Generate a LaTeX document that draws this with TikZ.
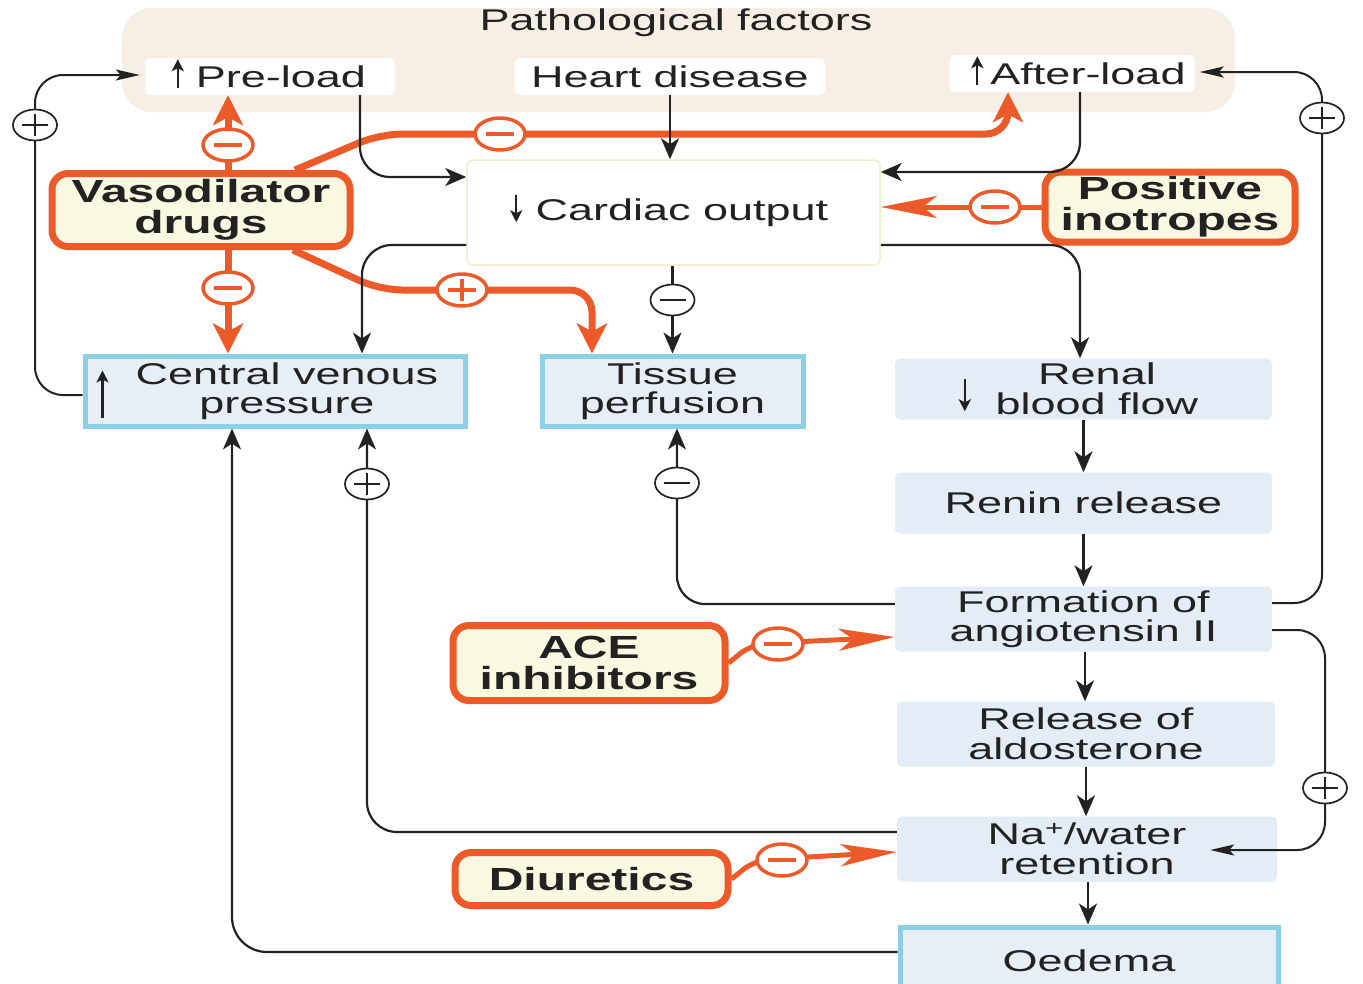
\documentclass[tikz,border=0pt]{standalone}
\usepackage{fontspec}
\setmainfont{Liberation Sans}[FakeStretch=1.5]
\usetikzlibrary{arrows.meta,shapes.geometric}
\definecolor{orn}{HTML}{EC5A2A}
\definecolor{lblue}{HTML}{8DCFE6}
\definecolor{bfill}{HTML}{E8EEF6}
\definecolor{gfill}{HTML}{E4ECF5}
\definecolor{beige}{HTML}{F7EFE6}
\definecolor{cream}{HTML}{FBF8E1}
\definecolor{ink}{HTML}{222222}
\definecolor{cobord}{HTML}{F2ECCB}
\begin{document}
\begin{tikzpicture}[x=1pt,y=-1pt,
  txt/.style={font=\fontsize{30}{29.5}\selectfont, text=ink, align=center, inner sep=0pt},
  btxt/.style={font=\fontsize{32}{31}\selectfont\bfseries, text=ink, align=center, inner sep=0pt},
  wbox/.style={txt, fill=white, rounded corners=6pt, minimum height=37pt},
  drug/.style={btxt, draw=orn, line width=7pt, fill=cream, rounded corners=16pt},
  bluebox/.style={txt, draw=lblue, line width=5pt, fill=bfill},
  gbox/.style={txt, fill=gfill, rounded corners=5pt, minimum width=377pt},
  blk/.style={draw=ink, line width=2.2pt, -{Stealth[length=21pt,width=18pt,inset=6pt]}},
  slim/.style={draw=ink, line width=2pt, -{Stealth[length=24pt,width=11pt,inset=5pt]}},
  tarr/.style={draw=ink, line width=2.2pt, -{Stealth[length=12pt,width=12pt,inset=3pt]}},
  oarr/.style={draw=orn, line width=7pt, -{Stealth[length=30pt,width=30pt,inset=8pt]}},
  oarr2/.style={draw=orn, line width=5pt, -{Stealth[length=56pt,width=22pt,inset=14pt]}},
  osign/.style={ellipse, draw=orn, line width=3.5pt, fill=white, minimum width=50pt, minimum height=32pt, inner sep=0pt},
  ominus/.style={osign, path picture={\draw[orn,line width=3.5pt] ([xshift=-14pt]path picture bounding box.center) -- ([xshift=14pt]path picture bounding box.center);}},
  oplus/.style={osign, path picture={\draw[orn,line width=3.5pt] ([xshift=-14pt]path picture bounding box.center) -- ([xshift=14pt]path picture bounding box.center) ([yshift=-11pt]path picture bounding box.center) -- ([yshift=11pt]path picture bounding box.center);}},
  bsign/.style={ellipse, draw=ink, line width=1.7pt, fill=white, minimum width=44pt, minimum height=31pt, inner sep=0pt},
  bminus/.style={bsign, path picture={\draw[ink,line width=2.2pt] ([xshift=-13pt]path picture bounding box.center) -- ([xshift=13pt]path picture bounding box.center);}},
  bplus/.style={bsign, path picture={\draw[ink,line width=2.2pt] ([xshift=-13pt]path picture bounding box.center) -- ([xshift=13pt]path picture bounding box.center) ([yshift=-11pt]path picture bounding box.center) -- ([yshift=11pt]path picture bounding box.center);}}
]
\useasboundingbox (0,0) rectangle (1363,983);
\fill[white] (0,0) rectangle (1363,983);

% ---------- nodes ----------
\node[fill=beige, rounded corners=30pt, minimum width=1113pt, minimum height=104pt] (bg) at (678.5,60) {};
\node[txt] (title) at (676,23) {Pathological factors};
\node[wbox, minimum width=250pt] (pre) at (270,76.5) {\hspace*{22pt}Pre-load};
\node[wbox, minimum width=310pt] (hd) at (670,76.5) {Heart disease};
\node[wbox, minimum width=245pt] (al) at (1072,73.5) {\hspace*{32pt}After-load};
\node[txt, draw=cobord, line width=1.5pt, fill=white, rounded corners=6pt, minimum width=413pt, minimum height=105pt] (co) at (673.5,212.5) {\hspace*{17pt}Cardiac output};
\node[drug, minimum width=298pt, minimum height=73pt] (vaso) at (201,210) {Vasodilator\\drugs};
\node[drug, minimum width=250pt, minimum height=70pt] (pi) at (1170,207) {Positive\\inotropes};
\node[bluebox, minimum width=380pt, minimum height=70pt] (cvp) at (275,391) {\hspace*{24pt}Central venous\\\hspace*{24pt}pressure};
\node[bluebox, minimum width=261pt, minimum height=70pt] (tp) at (672.5,391) {Tissue\\perfusion};
\node[gbox, minimum height=61pt] (rbf) at (1083.5,389) {\hspace*{27pt}Renal\\\hspace*{27pt}blood flow};
\node[gbox, minimum height=61pt] (rr) at (1083.5,503) {Renin release};
\node[gbox, minimum height=65pt] (fa) at (1083.5,619) {Formation of\\angiotensin II};
\node[gbox, minimum width=378pt, minimum height=65pt] (ra) at (1086,734) {Release of\\aldosterone};
\node[gbox, minimum width=380pt, minimum height=65pt] (na) at (1087,849) {Na\textsuperscript{+}/water\\retention};
\node[bluebox, minimum width=378pt, minimum height=68pt] (oe) at (1089,961) {Oedema};
\node[drug, minimum width=272pt, minimum height=75pt] (ace) at (589,663) {ACE\\inhibitors};
\node[drug, minimum width=273pt, minimum height=53pt] (diu) at (591.5,879) {Diuretics};

% arrows inside labels
\draw[tarr] ([xshift=33pt,yshift=7pt]pre.south west) -- ([xshift=33pt,yshift=36pt]pre.south west);
\draw[tarr] ([xshift=28pt,yshift=7pt]al.south west) -- ([xshift=28pt,yshift=36pt]al.south west);
\draw[tarr] ([xshift=50pt,yshift=-36pt]co.north west) -- ([xshift=50pt,yshift=-63pt]co.north west);
\draw[tarr] ([xshift=20pt,yshift=11pt]cvp.south west) -- ([xshift=20pt,yshift=58pt]cvp.south west);
\draw[tarr] ([xshift=70pt,yshift=-21pt]rbf.north west) -- ([xshift=70pt,yshift=-53pt]rbf.north west);

% ---------- orange connectors ----------
\draw[oarr] ([xshift=27pt]vaso.north) -- ([xshift=-42pt]pre.south);
\draw[oarr, rounded corners=22pt] ([xshift=94pt]vaso.north) -- (380,134) -- (1008,134) -- ([xshift=-64pt]al.south);
\draw[oarr] ([xshift=27pt]vaso.south) -- ([xshift=-47pt]cvp.north);
\draw[oarr, rounded corners=22pt] ([xshift=92pt]vaso.south) -- (380,290) -- (592,290) -- ([xshift=-80.5pt]tp.north);
\draw[oarr2] (pi.west) -- ([yshift=5.5pt]co.east);
\draw[oarr2, rounded corners=15pt] (ace.east) -- (752,644) -- ([yshift=-18pt]fa.west);
\draw[oarr2, rounded corners=15pt] (diu.east) -- (755,860) -- ([yshift=-3pt]na.west);

% ---------- black connectors ----------
\draw[blk, rounded corners=30pt] ([xshift=90pt]pre.south) -- (360,177) -- ([yshift=35.5pt]co.west);
\draw[blk] (hd.south) -- ([xshift=-3.5pt]co.north);
\draw[blk, rounded corners=30pt] ([xshift=8pt]al.south) -- (1080,172) -- ([yshift=40.5pt]co.east);
\draw[blk, rounded corners=30pt] ([yshift=-32.5pt]co.west) -- (362,245) -- ([xshift=87pt]cvp.north);
\draw[blk] ([xshift=-1pt]co.south) -- (tp.north);
\draw[blk, rounded corners=30pt] ([yshift=-32.5pt]co.east) -- (1080,245) -- ([xshift=-3.5pt]rbf.north);
\draw[blk] (rbf.south) -- (rr.north);
\draw[blk] (rr.south) -- (fa.north);
\draw[blk] ([xshift=1.5pt]fa.south) -- ([xshift=-1pt]ra.north);
\draw[blk] (ra.south) -- ([xshift=-1pt]na.north);
\draw[blk] ([xshift=1pt]na.south) -- ([xshift=-1pt]oe.north);
\draw[blk, rounded corners=28pt] ([yshift=15pt]fa.west) -- (677,604) -- ([xshift=4.5pt]tp.south);
\draw[slim, rounded corners=28pt] ([yshift=16pt]fa.east) -- (1322,603) -- (1322,72) -- ([xshift=5pt,yshift=1.5pt]al.east);
\draw[slim, rounded corners=28pt] ([yshift=-11pt]fa.east) -- (1325,630) -- (1325,850) -- ([xshift=-67pt,yshift=-1pt]na.east);
\draw[blk, rounded corners=30pt] ([yshift=17pt]na.west) -- (367,832) -- ([xshift=92pt]cvp.south);
\draw[blk, rounded corners=35pt] ([yshift=9pt]oe.west) -- (232,952) -- ([xshift=-43pt]cvp.south);
\draw[slim, rounded corners=28pt] ([yshift=-4pt]cvp.west) -- (35,395) -- (35,75) -- ([xshift=-5pt,yshift=1.5pt]pre.west);

% ---------- signs ----------
\node[ominus] (s1) at (228,145) {};
\node[ominus] (s2) at (500,134) {};
\node[ominus] (s3) at (228,288) {};
\node[oplus]  (s4) at (462,290) {};
\node[ominus] (s5) at (995,207) {};
\node[ominus] (s6) at (778,644) {};
\node[ominus] (s7) at (782,860) {};
\node[bplus]  (b1) at (35,125) {};
\node[bminus] (b2) at (672.5,300) {};
\node[bplus]  (b3) at (1322,118) {};
\node[bminus] (b4) at (677,483) {};
\node[bplus]  (b5) at (367,484) {};
\node[bplus]  (b6) at (1325,788) {};
\end{tikzpicture}
\end{document}
